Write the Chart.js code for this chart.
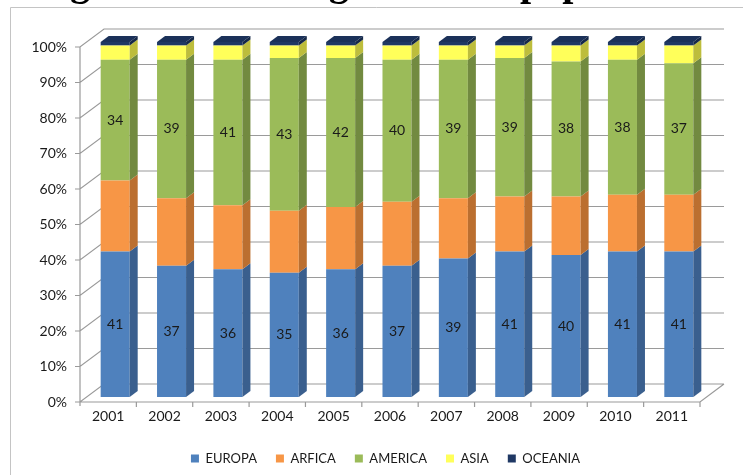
<!DOCTYPE html>
<html>
<head>
<meta charset="utf-8">
<script src="https://cdn.jsdelivr.net/npm/chart.js@4/dist/chart.umd.min.js"></script>
<style>
    html, body { margin: 0; padding: 0; background: #ffffff; }
    canvas { display: block; }
</style>
</head>
<body>
<canvas id="bar-chart" width="743" height="475"></canvas>
<script>

const years = ["2001", "2002", "2003", "2004", "2005", "2006", "2007", "2008", "2009", "2010", "2011"];
const europa = [41, 37, 36, 35, 36, 37, 39, 41, 40, 41, 41];
const africa = [20, 19, 18, 17.5, 17.5, 18, 17, 15.5, 16.5, 16, 16];
const america = [34, 39, 41, 43, 42, 40, 39, 39, 38, 38, 37];
const asia = [4, 4, 4, 3.5, 3.5, 4, 4, 3.5, 4.5, 4, 5];
const oceania = [1, 1, 1, 1, 1, 1, 1, 1, 1, 1, 1];
const percentTicks = [0, 10, 20, 30, 40, 50, 60, 70, 80, 90, 100];

// front faces, side faces
const fills = ["#4F81BD", "#F79646", "#9BBB59", "#FFFF5A", "#1F3864"];
const sides = ["#3A5F8E", "#BB6F30", "#728A40", "#BDBD3C", "#152848"];
const topFace = "#1B3159";

// bars sit a little behind the axis plane; the back wall is further
const barShift = { x: 7, y: -5 };
const barDepth = { x: 8, y: -6 };
const wallDepth = { x: 24, y: -18 };

const frame3d = {
    id: "frame3d",
    beforeDraw(chart) {
        const ctx = chart.ctx;
        ctx.save();
        ctx.fillStyle = "#ffffff";
        ctx.fillRect(0, 0, chart.width, chart.height);
        ctx.strokeStyle = "#c4c4c4";
        ctx.lineWidth = 1;
        ctx.beginPath();
        ctx.moveTo(10.5, chart.height);
        ctx.lineTo(10.5, 7.5);
        ctx.lineTo(chart.width, 7.5);
        ctx.stroke();

        ctx.fillStyle = "#000000";
        ctx.font = 'bold 40px "Liberation Serif"';
        ctx.textBaseline = "alphabetic";
        ctx.fillText("Origin of the immigrant total population", 10, -5);
        ctx.restore();
    },
    beforeDatasetsDraw(chart) {
        const ctx = chart.ctx;
        const y = chart.scales.y;
        const left = chart.chartArea.left - barShift.x;
        const right = chart.chartArea.right - barShift.x;
        const y0 = y.getPixelForValue(0) - barShift.y;
        const y100 = y.getPixelForValue(100) - barShift.y;

        ctx.save();
        ctx.strokeStyle = "#9a9a9a";
        ctx.lineWidth = 1.2;
        ctx.beginPath();
        percentTicks.forEach(v => {
            const fy = y.getPixelForValue(v) - barShift.y;
            ctx.moveTo(left - 5, fy);
            ctx.lineTo(left, fy);
            ctx.lineTo(left + wallDepth.x, fy + wallDepth.y);
            ctx.lineTo(right + wallDepth.x, fy + wallDepth.y);
        });
        // axis line and floor
        ctx.moveTo(left, y100);
        ctx.lineTo(left, y0 + 4);
        ctx.moveTo(left, y0);
        ctx.lineTo(right, y0);
        ctx.lineTo(right + wallDepth.x, y0 + wallDepth.y);
        const step = (right - left) / years.length;
        for (let i = 1; i <= years.length; i++) {
            ctx.moveTo(left + i * step, y0);
            ctx.lineTo(left + i * step, y0 + 5);
        }
        ctx.stroke();
        ctx.restore();
    },
    afterDatasetsDraw(chart) {
        const ctx = chart.ctx;
        const last = chart.data.datasets.length - 1;
        ctx.save();
        chart.data.datasets.forEach((ds, d) => {
            chart.getDatasetMeta(d).data.forEach(bar => {
                const x0 = bar.x - bar.width / 2;
                const x1 = bar.x + bar.width / 2;
                const top = Math.min(bar.y, bar.base);
                const bottom = Math.max(bar.y, bar.base);

                ctx.fillStyle = sides[d];
                ctx.beginPath();
                ctx.moveTo(x1, bottom);
                ctx.lineTo(x1, top);
                ctx.lineTo(x1 + barDepth.x, top + barDepth.y);
                ctx.lineTo(x1 + barDepth.x, bottom + barDepth.y);
                ctx.closePath();
                ctx.fill();

                if (d === last) {
                    ctx.fillStyle = topFace;
                    ctx.beginPath();
                    ctx.moveTo(x0, top);
                    ctx.lineTo(x1, top);
                    ctx.lineTo(x1 + barDepth.x, top + barDepth.y);
                    ctx.lineTo(x0 + barDepth.x, top + barDepth.y);
                    ctx.closePath();
                    ctx.fill();
                }
            });
        });

        // value labels on Europa and America
        ctx.fillStyle = "#1a1a1a";
        ctx.font = '14px Lato';
        ctx.textAlign = "center";
        ctx.textBaseline = "middle";
        [0, 2].forEach(d => {
            const values = chart.data.datasets[d].data;
            chart.getDatasetMeta(d).data.forEach((bar, i) => {
                ctx.fillText(String(values[i]), bar.x, (bar.y + bar.base) / 2);
            });
        });
        ctx.restore();
    },
    afterLayout(chart) {
        // centre the legend under the plot rather than the canvas
        const legend = chart.legend;
        legend.left += 32;
        legend.right += 32;
    }
};

function drawShareChart() {
    const bar = document.getElementById("bar-chart").getContext("2d");

    new Chart(bar, {
        type: 'bar',
        data: {
            labels: years,
            datasets: [
                { label: "EUROPA", data: europa, backgroundColor: fills[0] },
                { label: "ARFICA", data: africa, backgroundColor: fills[1] },
                { label: "AMERICA", data: america, backgroundColor: fills[2] },
                { label: "ASIA", data: asia, backgroundColor: fills[3] },
                { label: "OCEANIA", data: oceania, backgroundColor: fills[4] }
            ]
        },
        options: {
            responsive: false,
            animation: false,
            devicePixelRatio: 1,
            datasets: {
                bar: { categoryPercentage: 1, barPercentage: 0.515, borderWidth: 0 }
            },
            layout: { padding: { left: 0, right: 36, top: 42, bottom: 0 } },
            plugins: {
                legend: {
                    position: 'bottom',
                    labels: {
                        boxWidth: 8,
                        boxHeight: 8,
                        padding: 19,
                        color: "#1a1a1a",
                        font: { family: 'Lato', size: 13 }
                    }
                },
                title: { display: false },
                tooltip: { enabled: false }
            },
            scales: {
                x: {
                    stacked: true,
                    grid: { display: false, drawTicks: false },
                    border: { display: false },
                    ticks: {
                        padding: 11,
                        labelOffset: -barShift.x,
                        color: "#1a1a1a",
                        font: { family: 'Lato', size: 14 }
                    },
                    afterFit(scale) { scale.height = 36; }
                },
                y: {
                    stacked: true,
                    min: 0,
                    max: 100,
                    grid: { display: false, drawTicks: false },
                    border: { display: false },
                    ticks: {
                        stepSize: 10,
                        padding: 20,
                        labelOffset: -barShift.y,
                        color: "#1a1a1a",
                        font: { family: 'Lato', size: 14 },
                        callback: v => v + "%"
                    },
                    afterFit(scale) { scale.width = 87; }
                }
            }
        },
        plugins: [frame3d]
    });
}

drawShareChart();
</script>
</body>
</html>
